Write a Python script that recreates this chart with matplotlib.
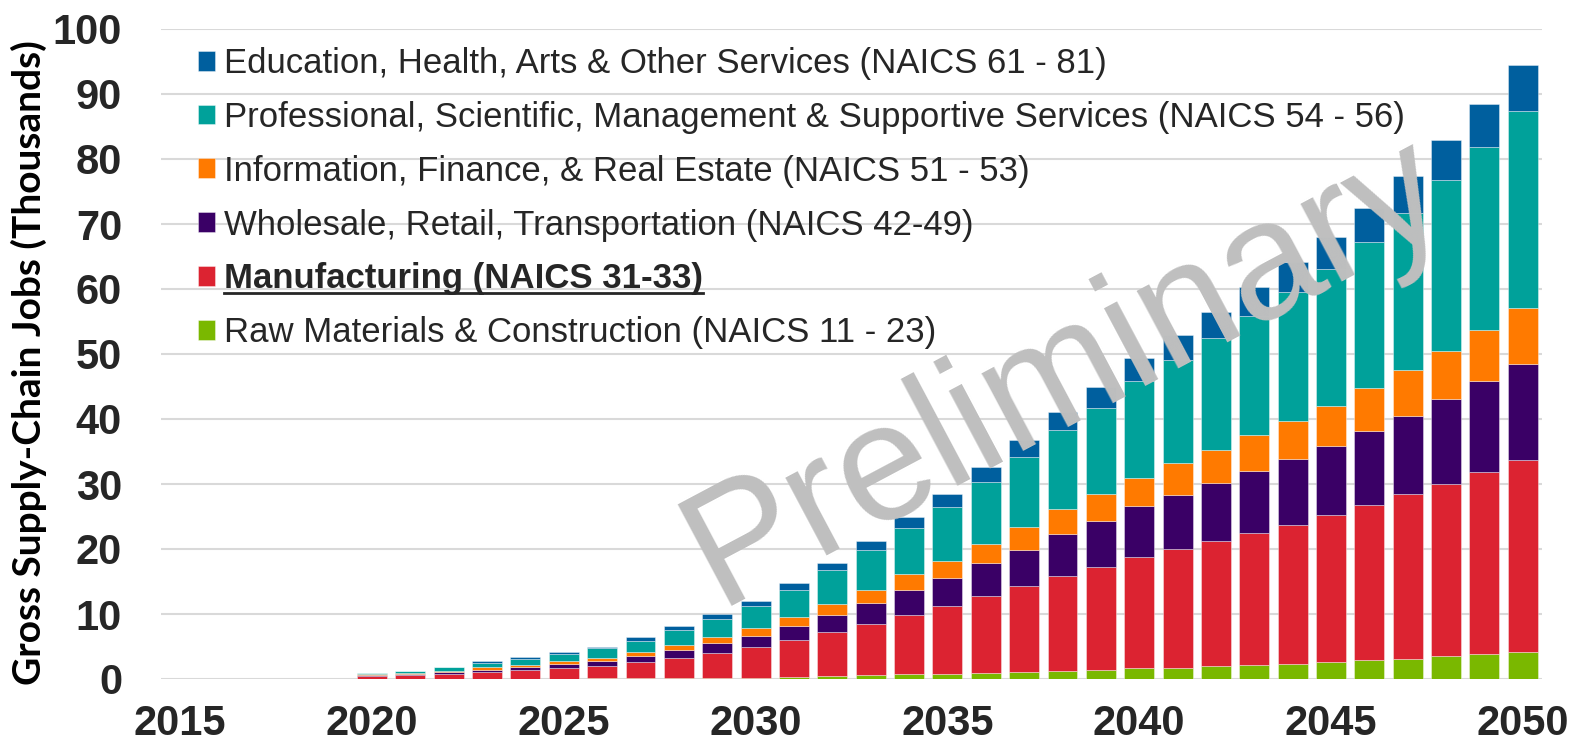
import numpy as np
import matplotlib
matplotlib.use("Agg")
from matplotlib import pyplot as plt
from matplotlib.lines import Line2D

# years with bars (axis runs 2015-2050)
years = list(range(2020, 2051))

raw_materials = [0.02, 0.03, 0.04, 0.05, 0.06, 0.07, 0.1, 0.1, 0.1, 0.1,
                 0.2, 0.3, 0.5, 0.6, 0.7, 0.8, 0.9, 1.1, 1.3, 1.4,
                 1.64, 1.75, 1.95, 2.1, 2.35, 2.57, 2.9, 3.1, 3.47, 3.8, 4.2]
manufacturing = [0.45, 0.52, 0.74, 1.10, 1.34, 1.65, 1.97, 2.44, 3.2, 3.94,
                 4.7, 5.7, 6.7, 7.9, 9.2, 10.4, 11.9, 13.2, 14.6, 15.8,
                 17.16, 18.25, 19.25, 20.3, 21.35, 22.7, 23.9, 25.3, 26.55, 28.1, 29.5]
wholesale = [0.15, 0.23, 0.32, 0.31, 0.42, 0.52, 0.73, 0.93, 1.16, 1.46,
             1.7, 2.1, 2.6, 3.2, 3.8, 4.3, 5.0, 5.6, 6.4, 7.1,
             7.8, 8.3, 8.9, 9.6, 10.2, 10.6, 11.3, 12.1, 13.0, 13.9, 14.8]
info_finance = [0.10, 0.12, 0.15, 0.31, 0.38, 0.46, 0.46, 0.73, 0.77, 0.9,
                1.2, 1.5, 1.7, 2.0, 2.4, 2.7, 3.0, 3.5, 3.8, 4.1,
                4.4, 4.9, 5.2, 5.5, 5.8, 6.2, 6.6, 7.0, 7.5, 7.9, 8.5]
professional = [0.18, 0.3, 0.55, 0.73, 0.9, 1.15, 1.44, 1.7, 2.27, 2.8,
                3.5, 4.1, 5.2, 6.1, 7.1, 8.3, 9.5, 10.8, 12.2, 13.3,
                14.8, 15.8, 17.2, 18.4, 19.9, 21.0, 22.6, 24.2, 26.2, 28.2, 30.4]
education = [0.1, 0.1, 0.1, 0.2, 0.23, 0.25, 0.3, 0.5, 0.6, 0.8,
             0.77, 1.1, 1.2, 1.5, 1.8, 2.0, 2.3, 2.5, 2.8, 3.2,
             3.6, 3.9, 4.0, 4.4, 4.6, 4.9, 5.2, 5.7, 6.2, 6.6, 7.1]

series = [
    ("Raw Materials & Construction (NAICS 11 - 23)", raw_materials, "#7ab800"),
    ("Manufacturing (NAICS 31-33)", manufacturing, "#dc2331"),
    ("Wholesale, Retail, Transportation (NAICS 42-49)", wholesale, "#3a0066"),
    ("Information, Finance, & Real Estate (NAICS 51 - 53)", info_finance, "#ff7a00"),
    ("Professional, Scientific, Management & Supportive Services (NAICS 54 - 56)",
     professional, "#00a19a"),
    ("Education, Health, Arts & Other Services (NAICS 61 - 81)", education, "#005f9e"),
]

xticks = [2015, 2020, 2025, 2030, 2035, 2040, 2045, 2050]
yticks = list(range(0, 101, 10))

TEXT = "#262626"
plt.rcParams["font.family"] = ["Liberation Sans", "DejaVu Sans"]

fig = plt.figure(figsize=(15.7, 7.46), dpi=100)
ax = fig.add_axes([161 / 1570, 67 / 746, 1381 / 1570, 650 / 746])

bottom = np.zeros(len(years))
handles = []
for label, vals, color in series:
    bars = ax.bar(years, vals, width=0.78, bottom=bottom, color=color,
                  edgecolor=(1, 1, 1, 0.45), linewidth=0.6, label=label, zorder=2)
    handles.append(bars)
    bottom += np.array(vals)

ax.set_xlim(2014.5, 2050.5)
ax.set_ylim(0, 100)
ax.set_xticks(xticks)
ax.set_yticks(yticks)
ax.tick_params(axis="both", length=0, labelsize=30, labelcolor=TEXT)
ax.tick_params(axis="y", pad=28)
ax.tick_params(axis="x", pad=18)
for t in ax.get_xticklabels() + ax.get_yticklabels():
    t.set_fontweight("bold")
ax.grid(axis="y", color="#d9d9d9", linewidth=1.5, zorder=0)
ax.set_axisbelow(True)
for s in ax.spines.values():
    s.set_visible(False)

fig.text(29 / 1570, 1 - 363 / 746, "Gross Supply-Chain Jobs (Thousands)",
         rotation=90, ha="center", va="center", fontsize=28,
         fontweight="bold", family=["Lato", "DejaVu Sans"], color="black")

leg = ax.legend(handles[::-1], [s[0] for s in series[::-1]],
                loc="upper left", bbox_to_anchor=(198 / 1570, 1 - 47 / 746),
                bbox_transform=fig.transFigure, frameon=False, fontsize=25,
                handlelength=0.5, handleheight=0.5, handletextpad=0.25,
                labelspacing=0.6, borderaxespad=0, borderpad=0)
for t in leg.get_texts():
    t.set_color(TEXT)
manu_text = leg.get_texts()[4]
manu_text.set_fontweight("bold")

ax.text(0.655, 0.472, "Preliminary", transform=ax.transAxes, rotation=28,
        rotation_mode="anchor", ha="center", va="center", fontsize=120,
        color="#bfbfbf", zorder=5)

# underline for the bold manufacturing label
fig.canvas.draw()
bb = manu_text.get_window_extent(fig.canvas.get_renderer())
uy = (bb.y0 + 2) / fig.bbox.height
fig.add_artist(Line2D([bb.x0 / fig.bbox.width, bb.x1 / fig.bbox.width], [uy, uy],
                      transform=fig.transFigure, color=TEXT, linewidth=2))

fig.savefig("out.png", dpi=100)
